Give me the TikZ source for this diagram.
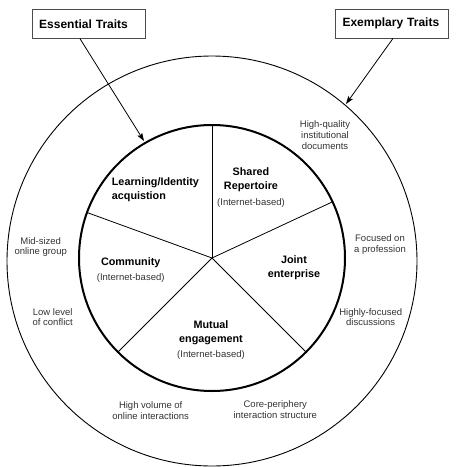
\documentclass[tikz,border=0pt]{standalone}
\usepackage{fontspec}
\setmainfont{Liberation Sans}
\usetikzlibrary{arrows.meta,calc}
\begin{document}
\begin{tikzpicture}[x=1pt,y=-1pt,
  title/.style={font=\fontsize{10.8}{14}\selectfont\bfseries, align=center, inner sep=0pt},
  sub/.style={font=\fontsize{9.5}{10.8}\selectfont, text=black!80, align=center, inner sep=0pt},
  headbox/.style={draw=black!70, line width=0.8pt, font=\fontsize{12}{14}\selectfont\bfseries, text width=99pt, align=left, inner xsep=7pt, inner ysep=0pt, minimum height=29pt},
  spoke/.style={line width=0.8pt},
  pointer/.style={line width=0.8pt, -{Stealth[length=8pt,width=5.5pt,inset=1.5pt]}}]
\useasboundingbox (0,0) rectangle (464,467);
% circles
\coordinate (oc) at (212,261);
\coordinate (c) at (212,258);
\draw[line width=0.9pt] (oc) circle[radius=205];
\draw[line width=2pt] (c) circle[radius=133];
% spokes
\coordinate (s1) at ($(c)+(-90:133)$);
\coordinate (s2) at ($(c)+(-25:133)$);
\coordinate (s3) at ($(c)+(45:133)$);
\coordinate (s4) at ($(c)+(135:133)$);
\coordinate (s5) at ($(c)+(200:133)$);
\foreach \s in {s1,s2,s3,s4,s5} \draw[spoke] (c) -- (\s);
% header boxes
\node[headbox] (ess) at (88.7,23.8) {Essential Traits};
\node[headbox] (exe) at (392,23.5) {Exemplary Traits};
\coordinate (esstip) at (144,141);
\coordinate (exetip) at (346,104);
\draw[pointer] (ess.south west -| 80,0) -- (esstip);
\draw[pointer] (exe.south west -| 393,0) -- (exetip);
% inner labels
\node[title] (sr) at (251,180) {Shared\\Repertoire};
\node[sub] (srs) at (251,203) {(Internet-based)};
\node[title, align=left, anchor=west] (li) at (111.7,190) {Learning/Identity\\acquistion};
\node[title] (co) at (130.7,262.7) {Community};
\node[sub] (cos) at (130.7,278) {(Internet-based)};
\node[title] (je) at (294,267.7) {Joint\\enterprise};
\node[title] (me) at (211,333) {Mutual\\engagement};
\node[sub] (mes) at (211,355) {(Internet-based)};
% outer labels
\node[sub] (hq) at (325,135) {High-quality\\institutional\\documents};
\node[sub] (ms) at (40.7,247) {Mid-sized\\online group};
\node[sub] (fp) at (380,244.5) {Focused on\\a profession};
\node[sub] (ll) at (52.7,317) {Low level\\of conflict};
\node[sub] (hf) at (370.7,317) {Highly-focused\\discussions};
\node[sub] (hv) at (150.7,410.5) {High volume of\\online interactions};
\node[sub] (cp) at (275.3,409.5) {Core-periphery\\interaction structure};
\end{tikzpicture}
\end{document}
